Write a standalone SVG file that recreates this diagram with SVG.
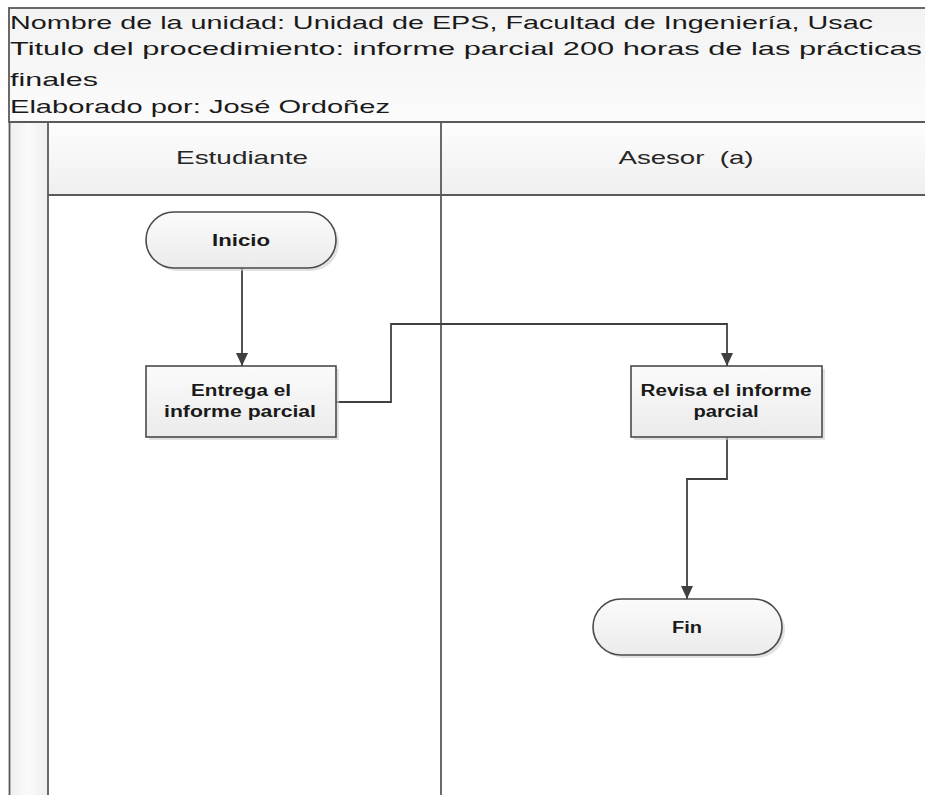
<svg xmlns="http://www.w3.org/2000/svg" width="925" height="795" viewBox="0 0 925 795">
  <defs>
    <linearGradient id="hdrGrad" x1="0" y1="0" x2="0" y2="1">
      <stop offset="0" stop-color="#f3f3f3"/>
      <stop offset="1" stop-color="#fbfbfb"/>
    </linearGradient>
    <linearGradient id="laneHdrGrad" x1="0" y1="0" x2="0" y2="1">
      <stop offset="0" stop-color="#fdfdfd"/>
      <stop offset="1" stop-color="#efefef"/>
    </linearGradient>
    <linearGradient id="stripGrad" x1="0" y1="0" x2="1" y2="0">
      <stop offset="0" stop-color="#efefef"/>
      <stop offset="0.5" stop-color="#fafafa"/>
      <stop offset="1" stop-color="#eeeeee"/>
    </linearGradient>
    <linearGradient id="nodeGrad" x1="0" y1="0" x2="0" y2="1">
      <stop offset="0" stop-color="#fbfbfb"/>
      <stop offset="1" stop-color="#ebebeb"/>
    </linearGradient>
    <marker id="arrow" markerWidth="14" markerHeight="12" refX="13" refY="6" orient="auto" markerUnits="userSpaceOnUse">
      <path d="M0,0 L13,6 L0,12 Z" fill="#404040"/>
    </marker>
  </defs>
  <style>
    .frame { fill: none; stroke: #5a5a5a; stroke-width: 1.8; }
    .hdr { font-family: "Liberation Sans", Arial, sans-serif; font-size: 19px; fill: #1a1a1a; }
    .lane { font-family: "Liberation Sans", Arial, sans-serif; font-size: 19px; fill: #262626; text-anchor: middle; }
    .node { fill: url(#nodeGrad); stroke: #4a4a4a; stroke-width: 1.6; }
    .shadow { fill: #cfcfcf; opacity: 0.6; }
    .lbl { font-family: "Liberation Sans", Arial, sans-serif; font-size: 16px; font-weight: bold; fill: #1a1a1a; text-anchor: middle; }
    .conn { fill: none; stroke: #404040; stroke-width: 1.8; }
  </style>

  <rect x="0" y="0" width="925" height="795" fill="#ffffff"/>

  <!-- title header -->
  <g id="header">
    <rect x="9" y="8" width="930" height="114" class="frame" style="fill:url(#hdrGrad)"/>
    <text class="hdr" x="10" y="29" textLength="863" lengthAdjust="spacingAndGlyphs">Nombre de la unidad: Unidad de EPS, Facultad de Ingeniería, Usac</text>
    <text class="hdr" x="10" y="55" textLength="912" lengthAdjust="spacingAndGlyphs">Titulo del procedimiento: informe parcial 200 horas de las prácticas</text>
    <text class="hdr" x="10" y="86" textLength="88" lengthAdjust="spacingAndGlyphs">finales</text>
    <text class="hdr" x="10" y="113" textLength="380" lengthAdjust="spacingAndGlyphs">Elaborado por: José Ordoñez</text>
  </g>

  <!-- swimlanes -->
  <g id="lanes">
    <rect x="9" y="122" width="39" height="680" style="fill:url(#stripGrad)"/>
    <rect x="48" y="122" width="890" height="73" style="fill:url(#laneHdrGrad)"/>
    <line class="frame" x1="9" y1="122" x2="925" y2="122"/>
    <line class="frame" x1="48" y1="195" x2="925" y2="195"/>
    <line class="frame" x1="9.5" y1="122" x2="9.5" y2="795"/>
    <line class="frame" x1="48" y1="122" x2="48" y2="795"/>
    <line class="frame" x1="441" y1="122" x2="441" y2="795"/>
  </g>
  <g id="lane-estudiante">
    <text class="lane" x="242" y="164" textLength="132" lengthAdjust="spacingAndGlyphs">Estudiante</text>
  </g>
  <g id="lane-asesor">
    <text class="lane" x="686" y="164" textLength="135" lengthAdjust="spacingAndGlyphs" xml:space="preserve">Asesor  (a)</text>
  </g>

  <!-- connectors -->
  <g id="connectors">
    <path class="conn" d="M242,268 L242,366" marker-end="url(#arrow)"/>
    <path class="conn" d="M336,402 L391,402 L391,324 L727,324 L727,366" marker-end="url(#arrow)"/>
    <path class="conn" d="M727,437 L727,479 L687,479 L687,599" marker-end="url(#arrow)"/>
  </g>

  <!-- nodes -->
  <g id="inicio">
    <rect class="shadow" x="149" y="215" width="190" height="56" rx="28"/>
    <rect class="node" x="146" y="212" width="190" height="56" rx="28"/>
    <text class="lbl" x="241" y="246" textLength="58" lengthAdjust="spacingAndGlyphs">Inicio</text>
  </g>
  <g id="entrega">
    <rect class="shadow" x="149" y="369" width="190" height="71"/>
    <rect class="node" x="146" y="366" width="190" height="71"/>
    <text class="lbl" x="241" y="396" textLength="100" lengthAdjust="spacingAndGlyphs">Entrega el</text>
    <text class="lbl" x="240" y="417" textLength="152" lengthAdjust="spacingAndGlyphs">informe parcial</text>
  </g>
  <g id="revisa">
    <rect class="shadow" x="634" y="369" width="191" height="71"/>
    <rect class="node" x="631" y="366" width="191" height="71"/>
    <text class="lbl" x="726" y="396" textLength="171" lengthAdjust="spacingAndGlyphs">Revisa el informe</text>
    <text class="lbl" x="726" y="417" textLength="65" lengthAdjust="spacingAndGlyphs">parcial</text>
  </g>
  <g id="fin">
    <rect class="shadow" x="596" y="602" width="189" height="56" rx="28"/>
    <rect class="node" x="593" y="599" width="189" height="56" rx="28"/>
    <text class="lbl" x="687" y="633" textLength="30" lengthAdjust="spacingAndGlyphs">Fin</text>
  </g>
</svg>
